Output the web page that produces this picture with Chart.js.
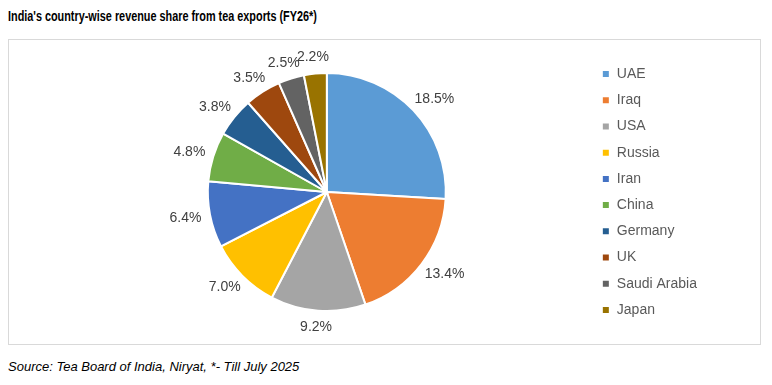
<!DOCTYPE html>
<html>
<head>
<meta charset="utf-8">
<script src="https://cdn.jsdelivr.net/npm/chart.js@4.4.1/dist/chart.umd.min.js"></script>
<style>
  body { margin: 0; background: #fff; font-family: "Liberation Sans", Arial, Helvetica, sans-serif; }
  #title { position: absolute; left: 8px; top: 7px; font-size: 15.5px; font-weight: bold; color: #000; white-space: nowrap; transform: scaleX(0.7); transform-origin: left top; }
  #box { position: absolute; left: 8px; top: 39px; width: 751px; height: 304px; border: 1px solid #d9d9d9; }
  #source { position: absolute; left: 8px; top: 359px; font-size: 13px; font-style: italic; color: #000; }
</style>
</head>
<body>
<div id="title">India's country-wise revenue share from tea exports (FY26*)</div>
<div id="box"><canvas id="myChart" width="751" height="304"></canvas></div>
<div id="source">Source: Tea Board of India, Niryat, *- Till July 2025</div>
<script>
var countries = ['UAE', 'Iraq', 'USA', 'Russia', 'Iran', 'China', 'Germany', 'UK', 'Saudi Arabia', 'Japan'];
var shares = [18.5, 13.4, 9.2, 7.0, 6.4, 4.8, 3.8, 3.5, 2.5, 2.2];
var colors = ['#5b9bd5', '#ed7d31', '#a5a5a5', '#ffc000', '#4472c4', '#70ad47', '#255e91', '#9e480e', '#636363', '#997300'];

// percentage labels outside each slice, like excel "outside end"
var outsideLabels = {
    id: 'outsideLabels',
    afterDatasetsDraw: function(chart){
        var ctx = chart.ctx;
        var meta = chart.getDatasetMeta(0);
        ctx.save();
        ctx.font = '14px "Liberation Sans", Arial, sans-serif';
        ctx.fillStyle = '#404040';
        ctx.textAlign = 'center';
        ctx.textBaseline = 'middle';
        meta.data.forEach(function(arc, i){
            var mid = (arc.startAngle + arc.endAngle) / 2;
            var txt = shares[i].toFixed(1) + '%';
            var w = ctx.measureText(txt).width;
            var h = 15;
            var d = arc.outerRadius + 9;
            var x = arc.x + Math.cos(mid) * d + Math.cos(mid) * w / 2;
            var y = arc.y + Math.sin(mid) * d + Math.sin(mid) * h / 2;
            ctx.fillText(txt, x, y);
        });
        ctx.restore();
    }
};

var ctx = document.getElementById('myChart').getContext('2d');
var myPieChart = new Chart(ctx, {
    type: 'pie',
    data: {
        labels: countries,
        datasets: [{
            data: shares,
            backgroundColor: colors,
            borderColor: '#ffffff',
            borderWidth: 2,
            radius: 119
        }]
    },
    options: {
        responsive: false,
        animation: false,
        layout: { padding: { left: 55, right: 53, top: 0, bottom: 0 } },
        plugins: {
            legend: {
                position: 'right',
                labels: {
                    boxWidth: 8,
                    boxHeight: 8,
                    padding: 12.2,
                    color: '#595959',
                    font: { family: '"Liberation Sans", Arial, sans-serif', size: 14 }
                }
            },
            tooltip: { enabled: false }
        }
    },
    plugins: [outsideLabels]
});
</script>
</body>
</html>
